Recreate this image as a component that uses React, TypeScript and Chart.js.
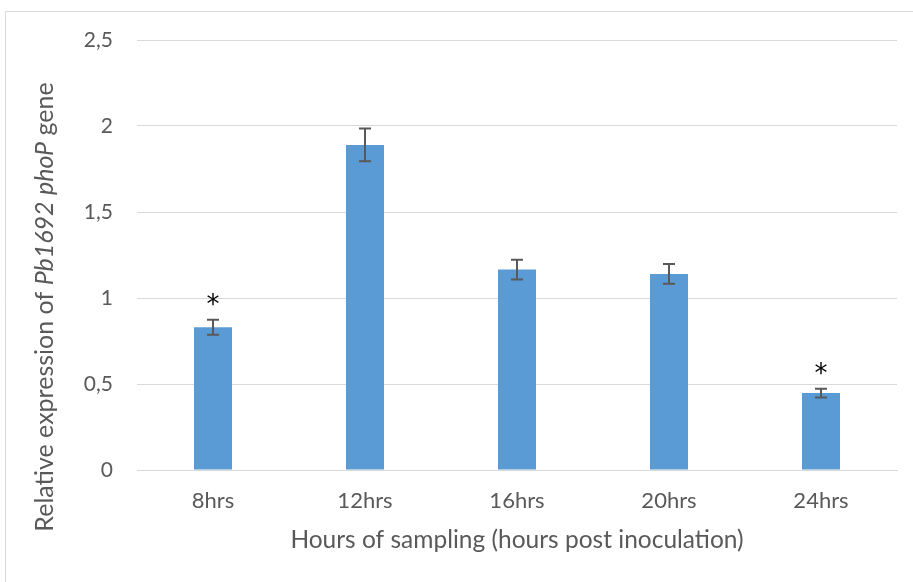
import React, { useEffect, useRef } from 'react';
import { Chart, registerables } from 'chart.js';

Chart.register(...registerables);

const categories = ['8hrs', '12hrs', '16hrs', '20hrs', '24hrs'];
const values = [0.83, 1.89, 1.165, 1.14, 0.447];
const errors = [0.043, 0.095, 0.058, 0.057, 0.026];
const significant = [true, false, false, false, true];
const yMin = 0;
const yMax = 2.5;
const yStep = 0.5;
const xTitle = 'Hours of sampling (hours post inoculation)';
const yTitleParts: [string, boolean][] = [
  ['Relative expression of ', false],
  ['Pb1692', true],
  [' ', false],
  ['phoP', true],
  [' gene', false],
];

const FONT = 'Lato, "Open Sans", sans-serif';
const TEXT = '#595959';

const decor = {
  id: 'decor',
  beforeDraw(chart: any) {
    const ctx = chart.ctx;
    ctx.save();
    ctx.strokeStyle = '#d9d9d9';
    ctx.lineWidth = 1;
    ctx.beginPath();
    ctx.moveTo(5.5, chart.height);
    ctx.lineTo(5.5, 11.5);
    ctx.lineTo(chart.width, 11.5);
    ctx.stroke();
    ctx.restore();
  },
  afterDatasetsDraw(chart: any) {
    const ctx = chart.ctx;
    const y = chart.scales.y;
    const meta = chart.getDatasetMeta(0);
    ctx.save();
    ctx.strokeStyle = '#595959';
    ctx.lineWidth = 2;
    meta.data.forEach((bar: any, i: number) => {
      const x = bar.x;
      const top = y.getPixelForValue(values[i] + errors[i]);
      const bot = y.getPixelForValue(values[i] - errors[i]);
      ctx.beginPath();
      ctx.moveTo(x, top);
      ctx.lineTo(x, bot);
      ctx.moveTo(x - 6, top);
      ctx.lineTo(x + 6, top);
      ctx.moveTo(x - 6, bot);
      ctx.lineTo(x + 6, bot);
      ctx.stroke();
      if (significant[i]) {
        ctx.fillStyle = '#000000';
        ctx.font = `26px "DejaVu Sans", sans-serif`;
        ctx.textAlign = 'center';
        ctx.textBaseline = 'alphabetic';
        ctx.fillText('*', x, top - 7);
      }
    });
    ctx.restore();
  },
  afterDraw(chart: any) {
    const ctx = chart.ctx;
    const area = chart.chartArea;
    ctx.save();
    ctx.fillStyle = TEXT;
    // x title
    ctx.font = `24.5px ${FONT}`;
    ctx.textAlign = 'center';
    ctx.textBaseline = 'middle';
    ctx.fillText(xTitle, (area.left + area.right) / 2, 540);
    // y title with italic parts
    const fontFor = (it: boolean) => `${it ? 'italic ' : ''}25px ${FONT}`;
    let total = 0;
    yTitleParts.forEach(([t, it]) => {
      ctx.font = fontFor(it);
      total += ctx.measureText(t).width;
    });
    ctx.translate(45, (area.top + area.bottom) / 2 + 52);
    ctx.rotate(-Math.PI / 2);
    ctx.textAlign = 'left';
    let pos = -total / 2;
    yTitleParts.forEach(([t, it]) => {
      ctx.font = fontFor(it);
      ctx.fillText(t, pos, 0);
      pos += ctx.measureText(t).width;
    });
    ctx.restore();
  },
};

export default function App() {
  const ref = useRef<HTMLCanvasElement>(null);
  useEffect(() => {
    const chart = new Chart(ref.current!, {
      type: 'bar',
      data: {
        labels: categories,
        datasets: [
          {
            data: values,
            backgroundColor: '#5b9bd5',
            borderWidth: 0,
            barPercentage: 0.25,
            categoryPercentage: 1,
          },
        ],
      },
      options: {
        responsive: false,
        animation: false,
        layout: { padding: { top: 40, right: 16, bottom: 0, left: 0 } },
        plugins: { legend: { display: false }, tooltip: { enabled: false } },
        scales: {
          x: {
            grid: { display: false, drawTicks: false },
            border: { display: true, color: '#d9d9d9', width: 1 },
            ticks: { padding: 18, color: TEXT, font: { family: FONT, size: 22 } },
            afterFit: (s: any) => {
              s.height = 112;
            },
          },
          y: {
            min: yMin,
            max: yMax,
            grid: { color: '#d9d9d9', drawTicks: false },
            border: { display: false },
            ticks: {
              stepSize: yStep,
              padding: 24,
              color: TEXT,
              font: { family: FONT, size: 21 },
              callback: (v: any) => String(v).replace('.', ','),
            },
            afterFit: (s: any) => {
              s.width = 137;
            },
          },
        },
      },
      plugins: [decor],
    } as any);
    return () => chart.destroy();
  }, []);
  return (
    <div style={{ position: 'absolute', left: 0, top: 0, width: 913, height: 582, background: '#fff' }}>
      <canvas ref={ref} width={913} height={582} />
    </div>
  );
}
